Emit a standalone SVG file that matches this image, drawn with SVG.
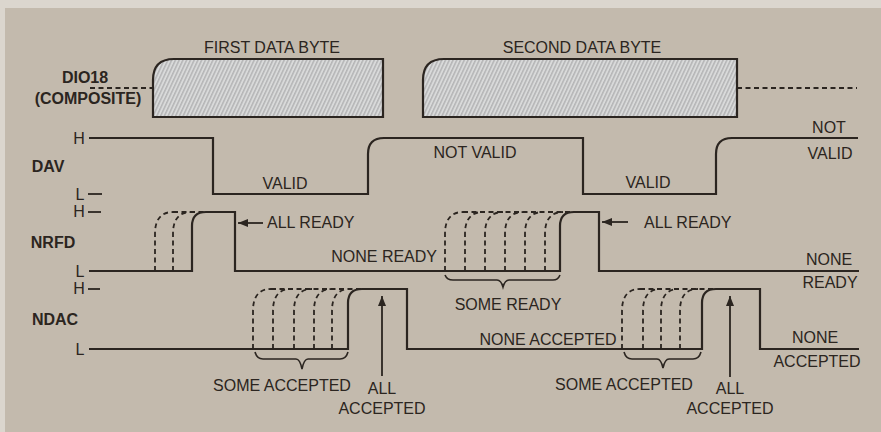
<svg xmlns="http://www.w3.org/2000/svg" width="881" height="432" viewBox="0 0 881 432">
<defs>
<pattern id="hatch" patternUnits="userSpaceOnUse" width="3.4" height="3.4" patternTransform="rotate(25)">
<rect width="3.4" height="3.4" fill="#d9dada"/>
<line x1="0.8" y1="0" x2="0.8" y2="3.4" stroke="#9c9c9e" stroke-width="0.9"/>
</pattern>
<marker id="ah" viewBox="0 0 10 8" refX="10" refY="4" markerWidth="10" markerHeight="8" markerUnits="userSpaceOnUse" orient="auto">
<path d="M0,0 L10,4 L0,8 Z" fill="#2b2520"/>
</marker>
</defs>
<style>
.w{fill:none;stroke:#2b2520;stroke-width:2.2;stroke-linejoin:miter}
.d{fill:none;stroke:#2b2520;stroke-width:1.8;stroke-dasharray:5 3.5}
.br{fill:none;stroke:#2b2520;stroke-width:1.6}
.t{font-family:"Liberation Sans",Arial,sans-serif;font-size:16px;fill:#2b2520}
.b{font-weight:bold}
.m{text-anchor:middle}
.e{text-anchor:end}
.tk{stroke:#2b2520;stroke-width:1.8}
</style>
<rect width="881" height="432" fill="#c3baad"/>
<rect width="881" height="8" fill="#dbd6ce"/>
<rect width="5" height="432" fill="#dbd6ce"/>

<g id="dio18">
<text class="t b m" x="85" y="83">DIO18</text>
<text class="t b m" x="88" y="104">(COMPOSITE)</text>
<path d="M153,117 V80 Q153,59 174,59 H383 V117 Z" fill="url(#hatch)" stroke="#2b2520" stroke-width="2.2"/>
<path d="M423,117 V80 Q423,59 444,59 H737 V117 Z" fill="url(#hatch)" stroke="#2b2520" stroke-width="2.2"/>
<text class="t m" x="272" y="53">FIRST DATA BYTE</text>
<text class="t m" x="582" y="53">SECOND DATA BYTE</text>
</g>

<g id="dav">
<text class="t b m" x="48" y="172">DAV</text>
<text class="t m" x="79" y="144">H</text>
<text class="t m" x="80" y="200">L</text>
<line class="tk" x1="88" y1="194" x2="102" y2="194"/>
<text class="t m" x="285" y="189">VALID</text>
<text class="t m" x="475" y="158">NOT VALID</text>
<text class="t m" x="648" y="188">VALID</text>
<text class="t m" x="829" y="133">NOT</text>
<text class="t m" x="830" y="159">VALID</text>
</g>

<g id="nrfd">
<text class="t b m" x="53" y="248">NRFD</text>
<text class="t m" x="79" y="217">H</text>
<line class="tk" x1="88" y1="212" x2="101" y2="212"/>
<text class="t m" x="80" y="277">L</text>
<text class="t" x="267" y="228">ALL READY</text>
<text class="t" x="644" y="228">ALL READY</text>
<text class="t e" x="437" y="262">NONE READY</text>
<text class="t m" x="829" y="265">NONE</text>
<text class="t m" x="830" y="288">READY</text>
<text class="t m" x="508" y="310">SOME READY</text>
</g>

<g id="ndac">
<text class="t b m" x="55" y="325">NDAC</text>
<text class="t m" x="79" y="294">H</text>
<line class="tk" x1="88" y1="289" x2="100" y2="289"/>
<text class="t m" x="80" y="355">L</text>
<text class="t m" x="548" y="345">NONE ACCEPTED</text>
<text class="t m" x="815" y="343">NONE</text>
<text class="t m" x="817" y="367">ACCEPTED</text>
<text class="t m" x="282" y="391">SOME ACCEPTED</text>
<text class="t m" x="382" y="394">ALL</text>
<text class="t m" x="382" y="414">ACCEPTED</text>
<text class="t m" x="624" y="390">SOME ACCEPTED</text>
<text class="t m" x="730" y="394">ALL</text>
<text class="t m" x="730" y="414">ACCEPTED</text>
</g>

<g id="connectors">
<path class="d" d="M90,88 H153 M737,88 H857"/>
<path class="w" d="M89,138 H213 V194 H368 V154 Q368,138 384,138 H583 V194 H716 V154 Q716,138 732,138 H858"/>
<path class="w" d="M89,271 H192 V226 Q192,212 206,212 H235 V271 H560 V226 Q560,212 574,212 H599 V271 H859"/>
<path class="w" d="M89,349 H348 V303 Q348,289 362,289 H407 V349 H702 V303 Q702,289 716,289 H760 V349 H859"/>
<path class="d" d="M155,271 V234 Q155,212 173,212 M173,271 V234 Q173,212 191,212 M173,212 H206"/>
<path class="d" d="M445,271 V234 Q445,212 463,212 M465,271 V234 Q465,212 483,212 M485,271 V234 Q485,212 503,212 M505,271 V234 Q505,212 523,212 M525,271 V234 Q525,212 543,212 M545,271 V234 Q545,212 563,212 M463,212 H574"/>
<path class="d" d="M253,349 V311 Q253,289 271,289 M273,349 V311 Q273,289 291,289 M294,349 V311 Q294,289 312,289 M314,349 V311 Q314,289 332,289 M332,349 V311 Q332,289 350,289 M271,289 H362"/>
<path class="d" d="M622,349 V311 Q622,289 640,289 M643,349 V311 Q643,289 661,289 M661,349 V311 Q661,289 679,289 M680,349 V311 Q680,289 698,289 M640,289 H716"/>
<path class="br" d="M445,275 Q447,280 453,280 H497 Q501,280 503,287 Q505,280 509,280 H553 Q558,280 560,275"/>
<path class="br" d="M255,352 Q257,359 263,359 H296 Q300,359 302,369 Q304,359 308,359 H340 Q346,359 348,352"/>
<path class="br" d="M624,352 Q626,359 632,359 H657 Q661,359 663,368 Q665,359 669,359 H693 Q699,359 701,352"/>
<line class="tk" x1="263" y1="223" x2="238" y2="223" marker-end="url(#ah)"/>
<line class="tk" x1="628" y1="222" x2="602" y2="222" marker-end="url(#ah)"/>
<line class="tk" x1="382" y1="376" x2="382" y2="296" marker-end="url(#ah)"/>
<line class="tk" x1="730" y1="377" x2="730" y2="296" marker-end="url(#ah)"/>
</g>
</svg>
